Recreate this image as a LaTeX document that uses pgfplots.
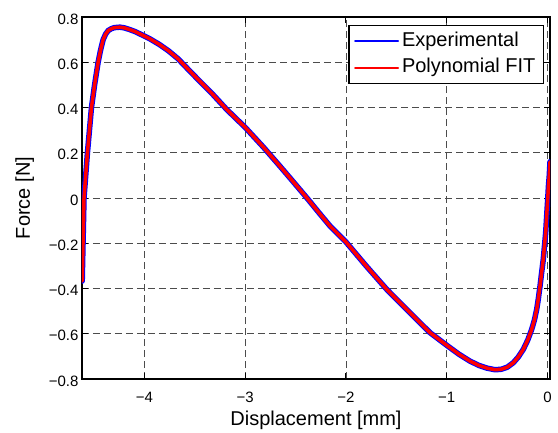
\documentclass[border=0pt]{standalone}
\usepackage{fontspec}
\setmainfont{Liberation Sans}
\usepackage{pgfplots}
\pgfplotsset{compat=1.18}
\begin{document}
\begin{tikzpicture}
\pgfplotstableread{
x y
-4.618 -0.367
-4.600 0.000
-4.583 0.100
-4.566 0.200
-4.546 0.300
-4.526 0.400
-4.495 0.500
-4.460 0.600
-4.435 0.655
-4.410 0.700
-4.385 0.725
-4.360 0.740
-4.330 0.748
-4.300 0.753
-4.244 0.755
-4.200 0.752
-4.150 0.745
-4.090 0.735
-4.030 0.722
-3.940 0.702
-3.850 0.678
-3.760 0.650
-3.666 0.615
-3.580 0.575
-3.484 0.531
-3.330 0.462
-3.183 0.391
-3.000 0.312
-2.820 0.225
-2.654 0.140
-2.520 0.070
-2.389 0.001
-2.270 -0.064
-2.158 -0.124
-1.999 -0.195
-1.800 -0.300
-1.595 -0.404
-1.380 -0.500
-1.166 -0.595
-1.000 -0.651
-0.880 -0.690
-0.769 -0.721
-0.680 -0.740
-0.600 -0.752
-0.520 -0.759
-0.460 -0.757
-0.400 -0.748
-0.339 -0.728
-0.290 -0.703
-0.240 -0.669
-0.195 -0.627
-0.157 -0.581
-0.130 -0.540
-0.107 -0.492
-0.090 -0.443
-0.074 -0.389
-0.058 -0.330
-0.042 -0.272
-0.030 -0.213
-0.018 -0.154
-0.008 -0.080
0.002 -0.007
0.010 0.055
0.018 0.100
0.025 0.160
}\datatable
\begin{axis}[
  scale only axis,
  width=468pt, height=362pt,
  xmin=-4.62, xmax=0.025,
  ymin=-0.8, ymax=0.8,
  axis line style={black, line width=1.2pt},
  xtick={-4,-3,-2,-1,0},
  xticklabels={−4,−3,−2,−1,0},
  ytick={-0.8,-0.6,-0.4,-0.2,0,0.2,0.4,0.6,0.8},
  yticklabels={−0.8,−0.6,−0.4,−0.2,0,0.2,0.4,0.6,0.8},
  tick align=inside,
  major tick length=6pt,
  tick style={black, line width=1pt},
  ticklabel style={font=\fontsize{15}{18}\selectfont},
  xticklabel style={anchor=base, yshift=-23pt},
  yticklabel style={yshift=-2pt},
  grid=major,
  major grid style={dash pattern=on 7pt off 4pt, gray!60!black, line width=0.9pt},
  xlabel={Displacement [mm]},
  ylabel={Force [N]},
  label style={font=\fontsize{20}{24}\selectfont},
  xlabel style={at={(axis description cs:0.5,0)}, anchor=base, yshift=-46pt},
  ylabel style={at={(axis description cs:0,0.5)}, anchor=base, rotate=0, yshift=52pt},
  legend style={at={(rel axis cs:1,1)}, anchor=north east, xshift=-6pt, yshift=-8pt,
    draw=black, line width=1.2pt, inner xsep=5pt, inner ysep=4.6pt,
    row sep=4.7pt, column sep=0pt,
    font=\fontsize{20}{24}\selectfont,
    nodes={inner xsep=3pt, inner ysep=1pt, text height=15pt, text depth=5pt}},
  legend cell align=left,
  legend image code/.code={\draw[#1, line width=2pt] (0pt,0pt) -- (43pt,0pt);},
]
\addplot[blue, line width=5.5pt, line join=round, line cap=round] table[x=x,y=y]{\datatable};
\addlegendentry{Experimental}
\addplot[red, line width=3.5pt, line join=round, line cap=round] table[x=x,y=y]{\datatable};
\addlegendentry{Polynomial FIT}
\end{axis}
\useasboundingbox ([shift={(-82pt,-49pt)}]current axis.south west) rectangle ([shift={(8pt,17pt)}]current axis.north east);
\end{tikzpicture}
\end{document}
